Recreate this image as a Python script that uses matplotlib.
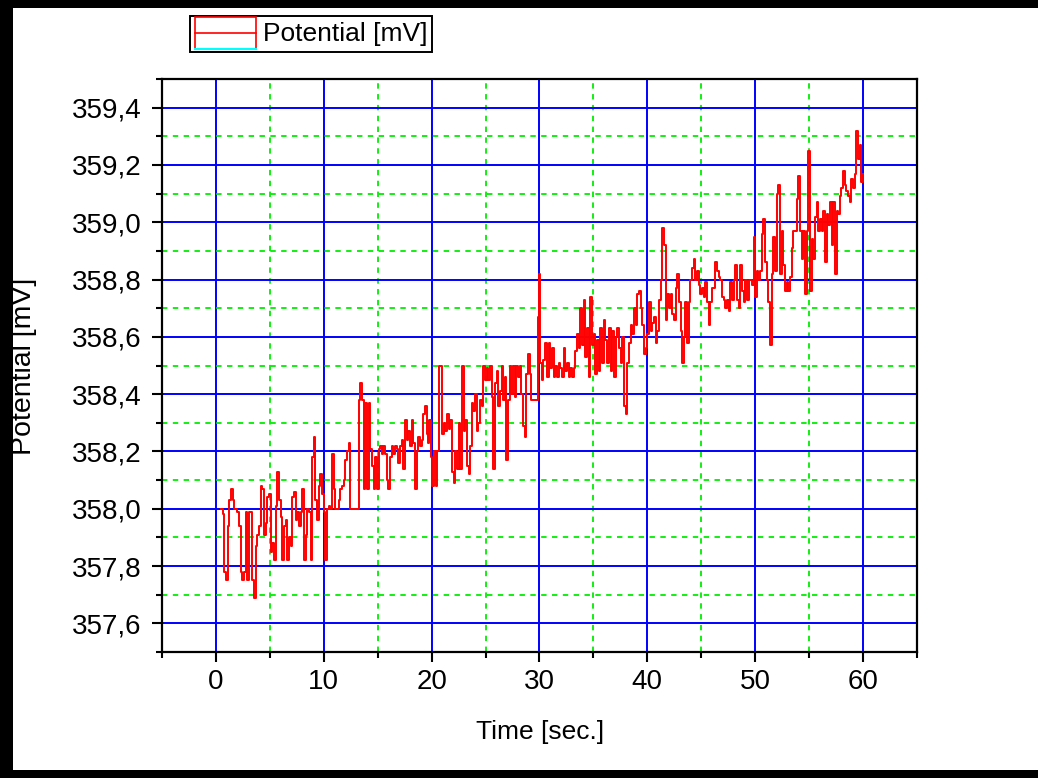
import numpy as np
import matplotlib
matplotlib.use('Agg')
import matplotlib.pyplot as plt
from matplotlib.patches import Rectangle
from matplotlib.lines import Line2D
from matplotlib.legend_handler import HandlerBase
from matplotlib.ticker import MultipleLocator, FuncFormatter

plt.rcParams['font.family'] = ['Liberation Sans', 'DejaVu Sans']

# Potential readings [mV], one list per 10 s stretch, with its time span [sec.]
span_1 = (0.46, 10.0)
pot_1 = [358.00, 357.98, 357.78, 357.75, 357.94, 358.03, 358.07, 358.03, 358.00, 358.00,
         357.99, 357.94, 357.78, 357.75, 357.78, 357.99, 357.75, 357.99, 357.99, 357.75,
         357.69, 357.87, 357.91, 357.94, 358.08, 358.07, 357.91, 357.95, 358.04, 358.05,
         357.85, 357.88, 357.82, 358.01, 358.13, 358.03, 357.97, 357.82, 357.94, 357.96,
         357.82, 357.90, 357.87, 358.04, 358.06, 357.96, 357.99, 357.94, 357.99, 358.07,
         357.82, 357.91, 358.00, 357.99, 357.82, 358.18, 358.25, 358.03, 357.96, 358.08,
         358.12, 358.05, 357.99]

span_2 = (10.15, 19.69)
pot_2 = [357.82, 358.00, 358.01, 358.00, 358.19, 358.07, 358.00, 358.00, 358.03, 358.07,
         358.08, 358.10, 358.17, 358.20, 358.23, 358.00, 358.00, 358.00, 358.00, 358.00,
         358.38, 358.44, 358.38, 358.07, 358.37, 358.07, 358.37, 358.21, 358.15, 358.07,
         358.18, 358.07, 358.21, 358.22, 358.19, 358.22, 358.19, 358.10, 358.07, 358.18,
         358.22, 358.19, 358.22, 358.21, 358.16, 358.22, 358.24, 358.14, 358.31, 358.24,
         358.27, 358.22, 358.31, 358.23, 358.07, 358.20, 358.25, 358.22, 358.24, 358.33,
         358.36, 358.26, 358.23]

span_3 = (19.75, 30.0)
pot_3 = [358.31, 358.18, 358.08, 358.20, 358.08, 358.20, 358.50, 358.50, 358.26, 358.30,
         358.27, 358.33, 358.28, 358.31, 358.13, 358.09, 358.20, 358.14, 358.30, 358.14,
         358.50, 358.27, 358.31, 358.15, 358.12, 358.22, 358.37, 358.34, 358.40, 358.27,
         358.30, 358.38, 358.36, 358.50, 358.45, 358.49, 358.45, 358.50, 358.39, 358.14,
         358.44, 358.48, 358.36, 358.41, 358.50, 358.38, 358.46, 358.17, 358.38, 358.50,
         358.40, 358.50, 358.39, 358.50, 358.46, 358.50, 358.40, 358.29, 358.25, 358.47,
         358.54, 358.47, 358.38, 358.38, 358.38, 358.38, 358.67, 358.82]

span_4 = (30.06, 40.0)
pot_4 = [358.51, 358.45, 358.52, 358.58, 358.46, 358.58, 358.49, 358.56, 358.46, 358.50,
         358.46, 358.51, 358.49, 358.46, 358.56, 358.48, 358.51, 358.46, 358.49, 358.46,
         358.49, 358.55, 358.61, 358.56, 358.70, 358.57, 358.73, 358.53, 358.63, 358.46,
         358.74, 358.57, 358.61, 358.47, 358.59, 358.48, 358.63, 358.51, 358.66, 358.59,
         358.51, 358.63, 358.48, 358.62, 358.46, 358.60, 358.63, 358.56, 358.51, 358.60,
         358.36, 358.33, 358.51, 358.58, 358.64, 358.61, 358.70, 358.64, 358.75, 358.76,
         358.70, 358.64, 358.54, 358.56, 358.61]

span_5 = (40.15, 50.0)
pot_5 = [358.72, 358.62, 358.65, 358.67, 358.58, 358.62, 358.73, 358.80, 358.98, 358.92,
         358.66, 358.75, 358.70, 358.75, 358.68, 358.66, 358.77, 358.82, 358.72, 358.62,
         358.51, 358.60, 358.72, 358.58, 358.72, 358.80, 358.84, 358.87, 358.80, 358.83,
         358.78, 358.75, 358.77, 358.74, 358.79, 358.72, 358.64, 358.72, 358.77, 358.77,
         358.86, 358.83, 358.81, 358.80, 358.74, 358.73, 358.70, 358.73, 358.69, 358.79,
         358.73, 358.80, 358.85, 358.73, 358.70, 358.85, 358.76, 358.72, 358.80, 358.73,
         358.80, 358.80, 358.78, 358.95, 358.74]

span_6 = (50.15, 60.0)
pot_6 = [358.83, 358.80, 358.83, 358.96, 359.01, 358.86, 358.80, 358.72, 358.57, 358.82,
         358.95, 358.83, 359.10, 359.13, 358.82, 358.97, 358.85, 358.76, 358.79, 358.76,
         358.81, 358.91, 358.97, 358.97, 359.08, 359.16, 358.97, 358.87, 358.97, 358.75,
         358.97, 359.25, 358.76, 358.94, 358.87, 359.02, 359.07, 358.97, 359.01, 358.97,
         359.04, 358.86, 359.03, 358.99, 359.07, 358.92, 359.07, 358.82, 359.04, 359.03,
         359.09, 359.12, 359.18, 359.13, 359.11, 359.09, 359.07, 359.15, 359.12, 359.17,
         359.32, 359.22, 359.27, 359.14, 359.17]

spans = [span_1, span_2, span_3, span_4, span_5, span_6]
pots = [pot_1, pot_2, pot_3, pot_4, pot_5, pot_6]

time = np.concatenate([np.linspace(s[0], s[1], len(p)) for s, p in zip(spans, pots)])
potential = np.concatenate([np.array(p) for p in pots])


# legend sample drawn like Origin does it: red box, red line through it, cyan base
class OriginLineHandler(HandlerBase):
    def create_artists(self, legend, orig_handle, xdescent, ydescent, width, height, fontsize, trans):
        x0, y0 = -xdescent, -ydescent - 0.25 * height
        h = height * 1.45
        box = Rectangle((x0, y0), width, h, facecolor='none', edgecolor='#ff0000', lw=1.2, transform=trans)
        mid = Line2D([x0, x0 + width], [y0 + h / 2, y0 + h / 2], color='#ff0000', lw=1.2, transform=trans)
        base = Line2D([x0, x0 + width], [y0, y0], color='#00ffff', lw=1.5, transform=trans)
        return [box, mid, base]


fig = plt.figure(figsize=(10.38, 7.78), dpi=100)
ax = fig.add_axes([162/1038, 1 - 652/778, 755/1038, 573/778])

line, = ax.plot(time, potential, color='#ff0000', lw=1.4, drawstyle='steps-post', zorder=3)

ax.set_xlim(-5, 65)
ax.set_ylim(357.5, 359.5)
ax.xaxis.set_major_locator(MultipleLocator(10))
ax.xaxis.set_minor_locator(MultipleLocator(5))
ax.yaxis.set_major_locator(MultipleLocator(0.2))
ax.yaxis.set_minor_locator(MultipleLocator(0.1))
ax.yaxis.set_major_formatter(FuncFormatter(lambda v, p: f'{v:.1f}'.replace('.', ',')))

# major grid blue solid, minor grid green dashed (inside the data range only)
for x in np.arange(0, 61, 10):
    ax.axvline(x, color='#0000ff', lw=1.4, zorder=1)
for x in np.arange(5, 61, 10):
    ax.axvline(x, color='#00ee00', lw=1.3, ls=(0, (3, 3)), zorder=1)
for y in np.arange(357.6, 359.41, 0.2):
    ax.axhline(y, color='#0000ff', lw=1.4, zorder=1)
for y in np.arange(357.7, 359.41, 0.2):
    ax.axhline(y, color='#00ee00', lw=1.3, ls=(0, (3, 3)), zorder=1)

for s in ax.spines.values():
    s.set_linewidth(1.6)
ax.tick_params(which='major', direction='out', length=7.5, width=1.5, labelsize=20)
ax.tick_params(which='minor', direction='out', length=4.5, width=1.5)
ax.tick_params(axis='y', which='major', pad=7)
ax.tick_params(axis='x', which='major', pad=5)

ax.set_xlabel('Time [sec.]', fontsize=19)
ax.set_ylabel('Potential [mV]', fontsize=20.5)
ax.xaxis.set_label_coords(0.501, -0.118)
ax.yaxis.set_label_coords(-0.166, 0.499)
ax.xaxis.label.set_va('top')
ax.yaxis.label.set_va('bottom')

leg = ax.legend([line], ['Potential [mV]'], handler_map={Line2D: OriginLineHandler()},
                loc='upper left', bbox_to_anchor=(190/1038, 1 - 16/778), bbox_transform=fig.transFigure,
                fontsize=19, frameon=True, fancybox=False, framealpha=1, edgecolor='black',
                borderpad=0.2, handlelength=2.3, handleheight=0.9, handletextpad=0.25, borderaxespad=0)
leg.get_frame().set_linewidth(1.4)

# black frame on the left, top and bottom of the picture
for rect in [(0, 0, 13/1038, 1), (0, 1 - 8/778, 1, 8/778), (0, 0, 1, 8/778)]:
    fig.patches.append(Rectangle(rect[:2], rect[2], rect[3], transform=fig.transFigure,
                                 facecolor='black', edgecolor='none', zorder=10))

fig.savefig('out.png', dpi=100)
